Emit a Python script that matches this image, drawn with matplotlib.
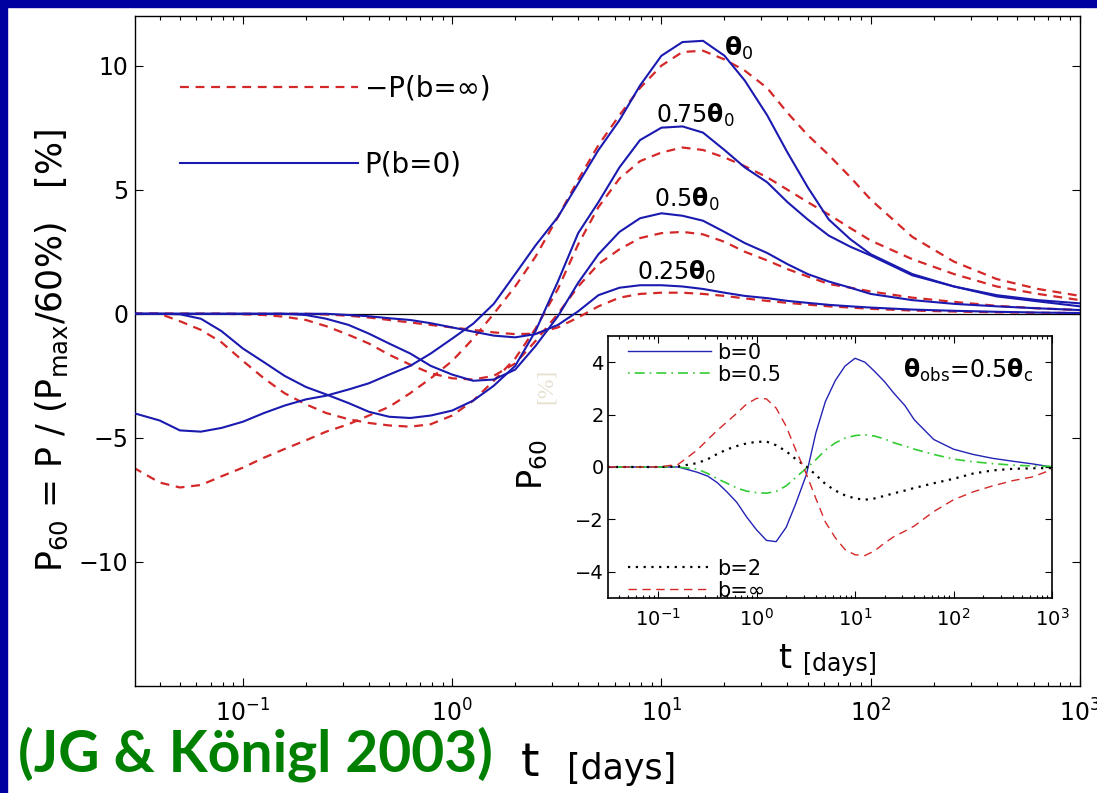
import matplotlib
matplotlib.use('Agg')
import matplotlib.pyplot as plt
from matplotlib.patches import Rectangle

plt.rcParams['font.family'] = ['DejaVu Sans']
plt.rcParams['mathtext.fontset'] = 'dejavusans'

# ---- main panel: P60 [%] against t [days] ----
t_main = [0.03, 0.04, 0.05, 0.063, 0.079, 0.1, 0.126, 0.158, 0.2, 0.25, 0.32, 0.4, 0.5, 0.63, 0.79,
          1.0, 1.26, 1.58, 2.0, 2.5, 3.2, 4.0, 5.0, 6.3, 7.9,
          10, 12.6, 15.8, 20, 25, 32, 40, 50,
          63, 80, 100, 158, 250, 400, 630, 1000]

# P(b=0), solid blue, theta_obs = theta0, 0.75, 0.5, 0.25 theta0
blue_1 = [-4.0, -4.3, -4.7, -4.75, -4.6, -4.35, -4.0, -3.7, -3.45, -3.3, -3.05, -2.8, -2.45, -2.1, -1.6,
          -1.0, -0.4, 0.4, 1.6, 2.75, 3.9, 5.25, 6.6, 7.8, 9.2,
          10.4, 10.95, 11.0, 10.4, 9.4, 8.0, 6.5, 5.1,
          3.8, 3.0, 2.4, 1.6, 1.1, 0.75, 0.55, 0.42]
blue_075 = [0, 0, -0.02, -0.2, -0.7, -1.4, -1.95, -2.5, -2.95, -3.25, -3.6, -3.95, -4.15, -4.2, -4.1,
            -3.9, -3.5, -2.9, -2.1, -0.7, 1.3, 3.25, 4.5, 5.9, 7.0,
            7.5, 7.55, 7.3, 6.6, 5.9, 5.3, 4.5, 3.8,
            3.15, 2.7, 2.35, 1.55, 1.1, 0.7, 0.5, 0.3]
blue_05 = [0, 0, 0, 0, 0, 0, 0, 0, -0.05, -0.2, -0.45, -0.8, -1.2, -1.6, -2.1,
           -2.45, -2.7, -2.65, -2.25, -1.3, -0.1, 1.25, 2.4, 3.3, 3.85,
           4.05, 3.95, 3.75, 3.3, 2.85, 2.45, 2.0, 1.6,
           1.3, 1.05, 0.8, 0.55, 0.4, 0.3, 0.22, 0.15]
blue_025 = [0, 0, 0, 0, 0, 0, 0, 0, 0, 0, -0.05, -0.1, -0.18, -0.25, -0.38,
            -0.55, -0.72, -0.88, -0.95, -0.82, -0.45, 0.1, 0.75, 1.05, 1.15,
            1.15, 1.1, 1.0, 0.85, 0.72, 0.63, 0.52, 0.44,
            0.36, 0.3, 0.25, 0.17, 0.12, 0.08, 0.05, 0.03]

# -P(b=inf), dashed red
red_1 = [-6.2, -6.8, -7.0, -6.9, -6.55, -6.2, -5.8, -5.45, -5.1, -4.75, -4.45, -4.1, -3.75, -3.2, -2.6,
         -1.9, -1.0, 0.0, 1.1, 2.3, 3.9, 5.4, 6.8, 8.0, 9.1,
         10.0, 10.55, 10.6, 10.25, 9.8, 9.1, 8.1, 7.2,
         6.4, 5.5, 4.6, 3.1, 2.1, 1.4, 1.0, 0.72]
red_075 = [0, 0, -0.3, -0.65, -1.15, -1.9, -2.6, -3.2, -3.65, -4.0, -4.25, -4.4, -4.5, -4.55, -4.45,
           -4.1, -3.5, -2.7, -1.8, -0.6, 1.0, 2.8, 4.3, 5.45, 6.15,
           6.5, 6.7, 6.6, 6.3, 5.95, 5.5, 5.0, 4.5,
           4.0, 3.45, 2.95, 2.2, 1.6, 1.1, 0.8, 0.55]
red_05 = [0, 0, 0, 0, 0, -0.02, -0.05, -0.12, -0.25, -0.5, -0.85, -1.2, -1.65, -2.05, -2.4,
          -2.6, -2.65, -2.5, -2.0, -1.1, 0.0, 1.1, 2.0, 2.6, 3.05,
          3.25, 3.3, 3.2, 2.9, 2.5, 2.15, 1.8, 1.5,
          1.2, 1.05, 0.9, 0.65, 0.48, 0.32, 0.22, 0.15]
red_025 = [0, 0, 0, 0, 0, 0, 0, 0, 0, -0.03, -0.08, -0.15, -0.25, -0.35, -0.45,
           -0.55, -0.65, -0.75, -0.82, -0.8, -0.55, -0.15, 0.3, 0.65, 0.8,
           0.85, 0.85, 0.8, 0.72, 0.62, 0.52, 0.44, 0.37,
           0.3, 0.25, 0.2, 0.13, 0.09, 0.06, 0.04, 0.03]

# ---- inset: theta_obs = 0.5 theta_c, different b ----
t_ins = [0.031, 0.1, 0.16, 0.25, 0.32, 0.4, 0.5, 0.63, 0.79,
         1.0, 1.26, 1.58, 2.0, 2.5, 3.2, 4.0, 5.0, 6.3, 7.9,
         10, 12.6, 15.8, 20, 25, 32, 40,
         63, 100, 158, 250, 400, 630, 1000]
ins_b0 = [0, 0, 0, -0.2, -0.35, -0.6, -0.95, -1.35, -1.9,
          -2.4, -2.8, -2.85, -2.3, -1.4, -0.3, 1.3, 2.5, 3.3, 3.85,
          4.15, 4.0, 3.65, 3.25, 2.8, 2.35, 1.8,
          1.05, 0.68, 0.48, 0.33, 0.22, 0.12, 0.0]
ins_b05 = [0, 0, 0, -0.08, -0.25, -0.45, -0.62, -0.8, -0.92,
           -0.98, -1.0, -0.93, -0.72, -0.4, -0.05, 0.28, 0.65, 0.92, 1.1,
           1.2, 1.23, 1.18, 1.07, 0.92, 0.8, 0.68,
           0.48, 0.3, 0.2, 0.13, 0.07, 0.04, 0.02]
ins_b2 = [0, 0, 0.02, 0.15, 0.3, 0.5, 0.67, 0.8, 0.9,
          0.96, 0.97, 0.83, 0.6, 0.3, 0.02, -0.3, -0.65, -0.9, -1.08,
          -1.2, -1.25, -1.2, -1.1, -1.0, -0.9, -0.8,
          -0.62, -0.45, -0.25, -0.13, -0.07, -0.05, -0.04]
ins_binf = [0, 0, 0.1, 0.65, 1.05, 1.4, 1.72, 2.05, 2.4,
            2.62, 2.6, 2.25, 1.55, 0.65, -0.26, -1.2, -2.1, -2.7, -3.15,
            -3.35, -3.38, -3.2, -2.9, -2.65, -2.45, -2.25,
            -1.7, -1.25, -0.95, -0.72, -0.52, -0.38, -0.1]

W, H = 1097, 793
BLUE = '#1a1ab0'
RED = '#d42828'
BORDER = '#0000a0'


def fx(px):
    return px / W


def fy(py):
    return 1 - py / H


fig = plt.figure(figsize=(W / 100, H / 100), dpi=100, facecolor='white')
fig.patches.append(Rectangle((0, fy(7)), 1, 7 / H, transform=fig.transFigure, color=BORDER, zorder=0))
fig.patches.append(Rectangle((0, 0), fx(7), 1, transform=fig.transFigure, color=BORDER, zorder=0))

ax = fig.add_axes([fx(135), fy(686), 945 / W, 670 / H])
ax.set_xscale('log')
ax.set_xlim(0.0305, 1000)
ax.set_ylim(-15, 12)
ax.axhline(0, color='k', lw=0.9, zorder=1)

for r in [red_1, red_075, red_05, red_025]:
    r_line, = ax.plot(t_main, r, color=RED, lw=1.6, dashes=(4, 3), zorder=2)
for b in [blue_1, blue_075, blue_05, blue_025]:
    b_line, = ax.plot(t_main, b, color=BLUE, lw=1.5, zorder=3)

ax.set_yticks([-10, -5, 0, 5, 10])
ax.tick_params(which='both', direction='in', top=True, right=True, labelsize=17)
ax.tick_params(which='major', length=6, width=0.8)
ax.tick_params(which='minor', length=3, width=0.8)
ax.tick_params(axis='x', pad=10)
ax.tick_params(axis='y', pad=5)
for s in ax.spines.values():
    s.set_linewidth(1.0)

ax.legend([r_line, b_line], ['\u2212P(b=\u221e)', 'P(b=0)'], loc='upper left',
          bbox_to_anchor=(0.0476, 0.913), borderaxespad=0, borderpad=0, frameon=False,
          handlelength=6.4, handletextpad=0.25, labelspacing=1.75, fontsize=20)

ax.text(20, 10.7, r'$\mathbf{\theta}_0$', fontsize=18, va='center')
ax.text(9.4, 8.0, r'0.75$\mathbf{\theta}_0$', fontsize=17, va='center')
ax.text(9.2, 4.6, r'0.5$\mathbf{\theta}_0$', fontsize=17, va='center')
ax.text(7.6, 1.65, r'0.25$\mathbf{\theta}_0$', fontsize=17, va='center')

# inset
ax2 = fig.add_axes([fx(608), fy(598), 444 / W, 262 / H])
ax2.set_facecolor('white')
ax2.set_xscale('log')
ax2.set_xlim(0.031, 1000)
ax2.set_ylim(-5, 5)
h_b0, = ax2.plot(t_ins, ins_b0, color='#2323b4', lw=1.0)
h_b05, = ax2.plot(t_ins, ins_b05, color='#33cc33', lw=1.2, dashes=(1, 3, 6, 3))
h_b2, = ax2.plot(t_ins, ins_b2, color='black', lw=1.6, dashes=(1, 2.5))
h_binf, = ax2.plot(t_ins, ins_binf, color=RED, lw=1.0, dashes=(6, 4))
ax2.set_yticks([-4, -2, 0, 2, 4])
ax2.tick_params(which='both', direction='in', top=True, right=True, labelsize=14)
ax2.tick_params(which='major', length=5, width=0.8)
ax2.tick_params(which='minor', length=2.5, width=0.8)
ax2.tick_params(axis='x', pad=7)
ax2.tick_params(axis='y', pad=3)
for s in ax2.spines.values():
    s.set_linewidth(1.2)

leg1 = ax2.legend([h_b0, h_b05], ['b=0', 'b=0.5'], loc='upper left', bbox_to_anchor=(0.045, 0.975),
                  borderaxespad=0, borderpad=0, frameon=False, handlelength=4.0,
                  handletextpad=0.3, labelspacing=0.1, fontsize=15)
ax2.add_artist(leg1)
ax2.legend([h_b2, h_binf], ['b=2', 'b=\u221e'], loc='lower left', bbox_to_anchor=(0.045, -0.01),
           borderaxespad=0, borderpad=0, frameon=False, handlelength=4.0,
           handletextpad=0.3, labelspacing=0.1, fontsize=15)
ax2.text(30.7, 3.7, r'$\mathbf{\theta}_{\rm obs}$=0.5$\mathbf{\theta}_{\rm c}$', fontsize=17, va='center')

# axis labels
fig.text(fx(52), fy(351), r'P$_{60}$ = P / (P$_{\rm max}$/60%)   [%]', rotation=90,
         ha='center', va='center', fontsize=25)
fig.text(fx(533), fy(465), r'P$_{60}$', rotation=90, ha='center', va='center', fontsize=24)
fig.text(fx(546), fy(386), '[%]', rotation=90, ha='center', va='center', fontsize=17,
         color='#e6e1cf', family='Liberation Serif')
fig.text(fx(530), fy(763), 't', fontsize=34, ha='center', va='center')
fig.text(fx(622), fy(769), '[days]', fontsize=25, ha='center', va='center')
fig.text(fx(785), fy(659), 't', fontsize=24, ha='center', va='center')
fig.text(fx(840), fy(664), '[days]', fontsize=17, ha='center', va='center')

fig.text(fx(18), fy(772), '(JG & K\u00f6nigl 2003)', family='Lato', weight='bold',
         color='#008000', fontsize=41, ha='left', va='baseline')

fig.savefig('out.png', dpi=100)
